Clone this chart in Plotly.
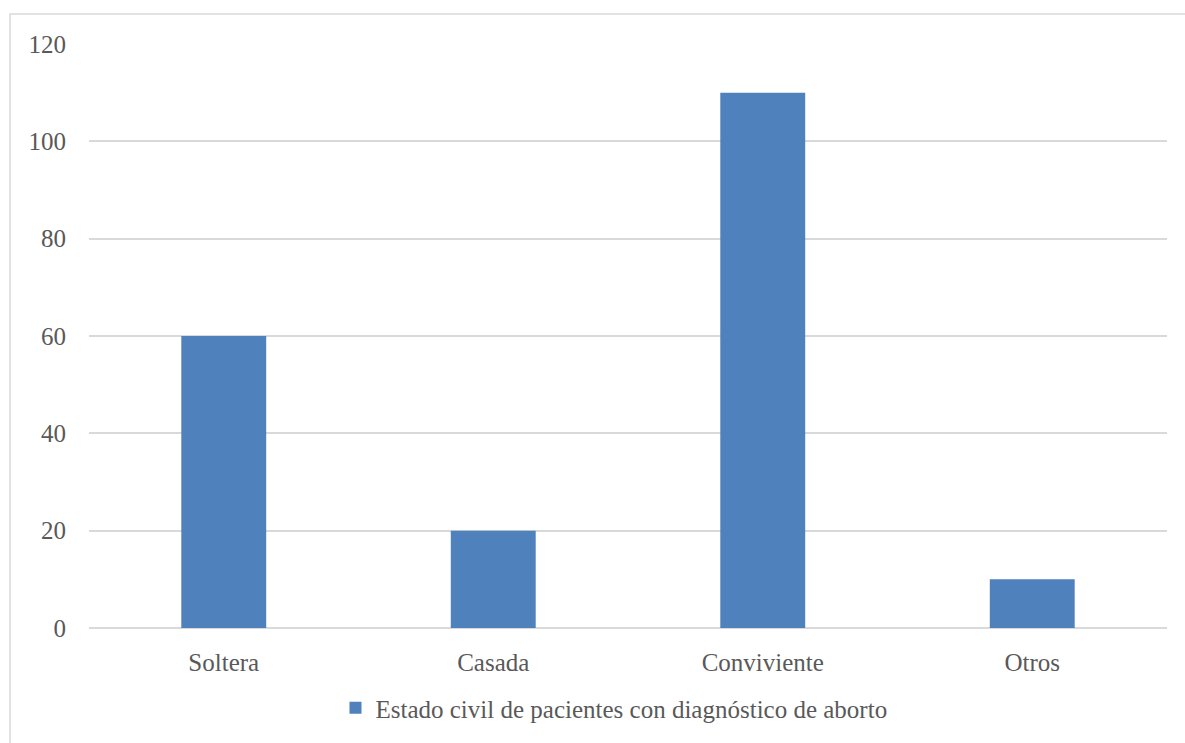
import plotly.graph_objects as go

categories = ["Soltera", "Casada", "Conviviente", "Otros"]
values = [60, 20, 110, 10]
series_name = "Estado civil de pacientes con diagnóstico de aborto"
y_ticks = [0, 20, 40, 60, 80, 100, 120]

FONT = "Liberation Serif"
FS = 25
TXT = "#595959"
GRID = "#d9d9d9"

fig = go.Figure()
fig.add_trace(go.Bar(x=categories, y=values, name=series_name,
                     marker=dict(color="#4f81bd", line=dict(width=0))))

fig.update_layout(
    width=1185, height=743,
    margin=dict(l=89, r=18, t=44, b=113),
    paper_bgcolor="white", plot_bgcolor="white",
    bargap=0.685,
    font=dict(family=FONT, size=FS, color=TXT),
    showlegend=True,
    legend=dict(orientation="h", x=0.487, xanchor="center", y=-0.137, yanchor="middle",
                font=dict(family=FONT, size=FS, color=TXT), itemwidth=30),
    xaxis=dict(showgrid=False, showline=False, ticks="", ticklabelstandoff=17,
               tickfont=dict(size=FS, color=TXT)),
    yaxis=dict(range=[0, 120], tickvals=y_ticks, showgrid=True, gridcolor=GRID, gridwidth=1.5,
               zeroline=True, zerolinecolor=GRID, zerolinewidth=1.5, showline=False,
               ticks="", ticklabelstandoff=22, tickfont=dict(size=FS, color=TXT)),
    shapes=[dict(type="rect", xref="paper", yref="paper",
                 x0=(10 - 89) / 1078, x1=1.05, y0=-0.3, y1=(630 - 14) / 586,
                 line=dict(color=GRID, width=1.5), fillcolor="rgba(0,0,0,0)", layer="below")],
)

fig.write_html("out.html")
